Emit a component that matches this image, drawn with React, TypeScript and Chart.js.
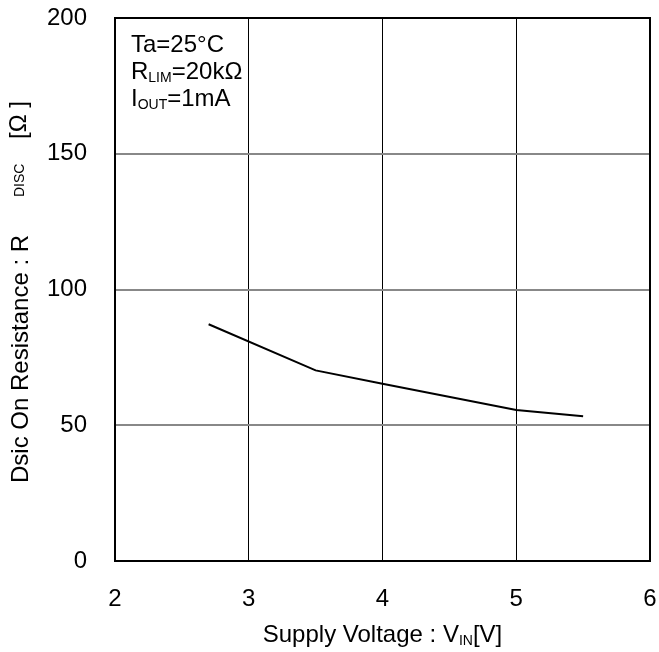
import React, { useEffect, useRef } from "react";
import { Chart, registerables } from "chart.js";

Chart.register(...registerables);

// Data
const voltage = [2.7, 3.5, 4.0, 5.0, 5.5];
const resistance = [87.2, 70.2, 65.3, 55.6, 53.3];
const xTicks = [2, 3, 4, 5, 6];
const yTicks = [0, 50, 100, 150, 200];

type Seg = { t: string; sub?: boolean };
const xTitle: Seg[] = [{ t: "Supply Voltage : V" }, { t: "IN", sub: true }, { t: "[V]" }];
const yTitleMain = "Dsic On Resistance : R";
const yTitleSub = "DISC";
const yTitleUnit = "[Ω ]";
const notes: Seg[][] = [
  [{ t: "Ta=25°C" }],
  [{ t: "R" }, { t: "LIM", sub: true }, { t: "=20kΩ" }],
  [{ t: "I" }, { t: "OUT", sub: true }, { t: "=1mA" }],
];

const FAMILY = "'Liberation Sans', Arial, sans-serif";
const MAIN = 24;
const SUB = 14;

function segWidth(ctx: CanvasRenderingContext2D, segs: Seg[]) {
  let w = 0;
  for (const s of segs) {
    ctx.font = `${s.sub ? SUB : MAIN}px ${FAMILY}`;
    w += ctx.measureText(s.t).width;
  }
  return w;
}

function drawSegs(ctx: CanvasRenderingContext2D, segs: Seg[], x: number, y: number) {
  let cx = x;
  for (const s of segs) {
    ctx.font = `${s.sub ? SUB : MAIN}px ${FAMILY}`;
    ctx.fillText(s.t, cx, s.sub ? y + 3 : y);
    cx += ctx.measureText(s.t).width;
  }
}

const textPlugin = {
  id: "textPlugin",
  afterDraw(chart: any) {
    const ctx: CanvasRenderingContext2D = chart.ctx;
    const a = chart.chartArea;
    ctx.save();
    // frame
    ctx.strokeStyle = "#000";
    ctx.lineWidth = 2;
    ctx.strokeRect(a.left, a.top, a.right - a.left, a.bottom - a.top);

    ctx.fillStyle = "#000";
    ctx.textAlign = "left";
    ctx.textBaseline = "alphabetic";

    // annotation
    notes.forEach((line, i) => {
      drawSegs(ctx, line, a.left + 16, a.top + 34 + i * 27);
    });

    // x title
    const w = segWidth(ctx, xTitle);
    const cx = (a.left + a.right) / 2;
    drawSegs(ctx, xTitle, cx - w / 2, 642);

    // y title (rotated)
    ctx.save();
    ctx.translate(28, 483);
    ctx.rotate(-Math.PI / 2);
    ctx.font = `${MAIN}px ${FAMILY}`;
    ctx.fillText(yTitleMain, 0, 0);
    ctx.font = `${SUB}px ${FAMILY}`;
    ctx.fillText(yTitleSub, 286, -4);
    ctx.font = `${MAIN}px ${FAMILY}`;
    ctx.fillText(yTitleUnit, 344, -2);
    ctx.restore();

    ctx.restore();
  },
};

export default function App() {
  const ref = useRef<HTMLCanvasElement>(null);
  useEffect(() => {
    document.body.style.margin = "0";
    const canvas = ref.current!;
    const tickFont = { family: FAMILY, size: MAIN };
    const chart = new Chart(canvas, {
      type: "line",
      data: {
        datasets: [
          {
            data: voltage.map((v, i) => ({ x: v, y: resistance[i] })),
            borderColor: "#000",
            borderWidth: 2,
            pointRadius: 0,
            tension: 0,
            fill: false,
          },
        ],
      },
      options: {
        animation: false,
        responsive: false,
        devicePixelRatio: 1,
        layout: { padding: { top: 18, right: 9, left: 0, bottom: 0 } },
        plugins: { legend: { display: false }, tooltip: { enabled: false } },
        scales: {
          x: {
            type: "linear",
            min: xTicks[0],
            max: xTicks[xTicks.length - 1],
            afterBuildTicks: (s: any) => {
              s.ticks = xTicks.map((v) => ({ value: v }));
            },
            afterFit: (s: any) => {
              s.height = 91;
              s.paddingLeft = 0;
              s.paddingRight = 0;
            },
            grid: { color: "#000", lineWidth: 1, drawTicks: false, tickLength: 0 },
            border: { display: false },
            ticks: { font: tickFont, color: "#000", padding: 24, maxRotation: 0, autoSkip: false },
          },
          y: {
            type: "linear",
            min: yTicks[0],
            max: yTicks[yTicks.length - 1],
            afterBuildTicks: (s: any) => {
              s.ticks = yTicks.map((v) => ({ value: v }));
            },
            afterFit: (s: any) => {
              s.width = 115;
              s.paddingTop = 0;
              s.paddingBottom = 0;
            },
            grid: { color: "#888", lineWidth: 2, drawTicks: false, tickLength: 0 },
            border: { display: false },
            ticks: { font: tickFont, color: "#000", padding: 28, autoSkip: false },
          },
        },
      },
      plugins: [textPlugin],
    } as any);
    return () => chart.destroy();
  }, []);
  return <canvas ref={ref} width={659} height={652} style={{ display: "block" }} />;
}
